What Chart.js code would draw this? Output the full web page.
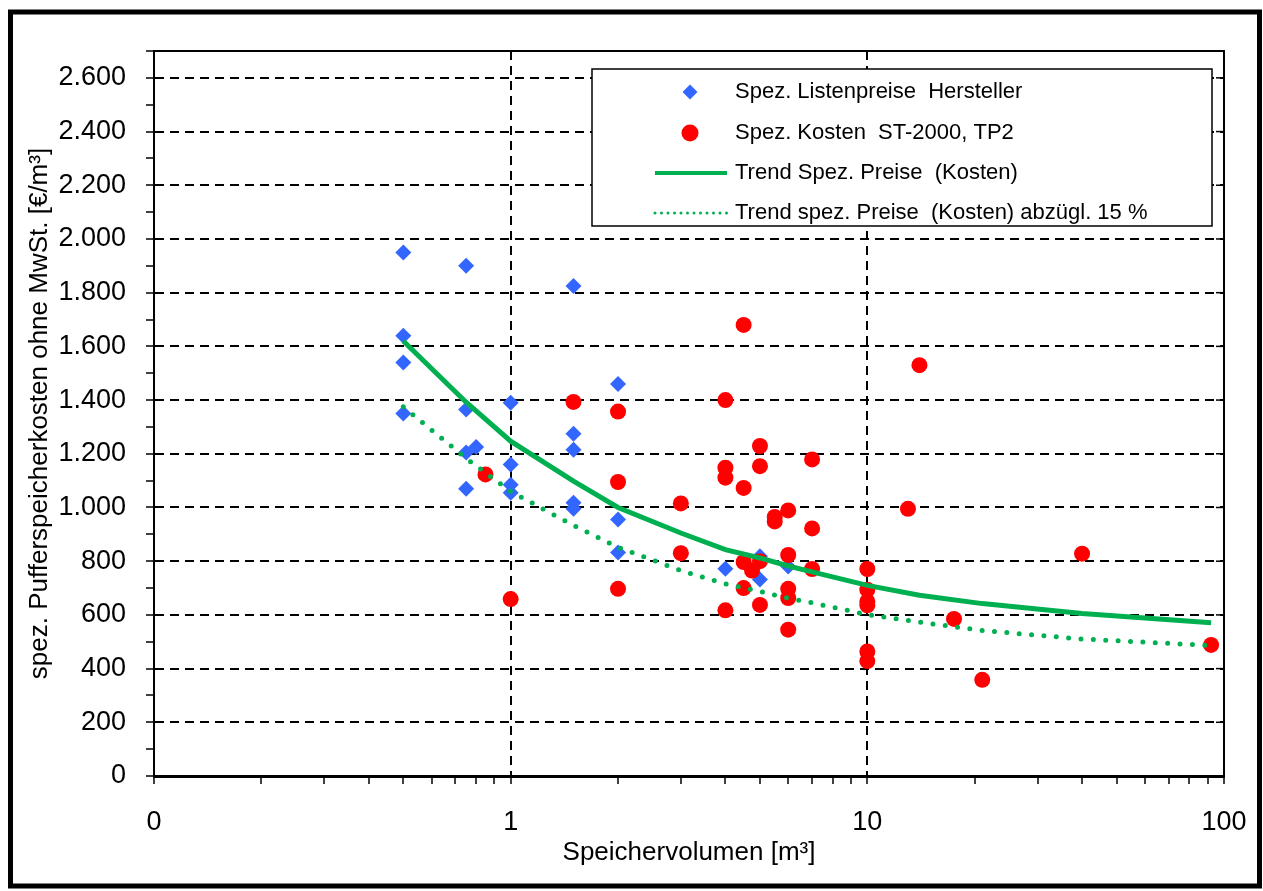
<!DOCTYPE html>
<html>
<head>
<meta charset="utf-8">
<script src="https://cdn.jsdelivr.net/npm/chart.js@4.4.1/dist/chart.umd.min.js"></script>
<style>
  html, body { margin: 0; padding: 0; background: #fff; }
  canvas { display: block; }
</style>
</head>
<body>
<canvas id="chart" width="1263" height="891"></canvas>
<script>
// Spez. Listenpreise Hersteller (blue diamonds)
const listX = [0.5, 0.5, 0.5, 0.5, 0.75, 0.75, 0.75, 0.75, 0.8, 1, 1, 1, 1,
  1.5, 1.5, 1.5, 1.5, 1.5, 2, 2, 2, 3, 4, 5, 5, 6];
const listY = [1950, 1640, 1540, 1350, 1900, 1365, 1205, 1070, 1225, 1390, 1160, 1085, 1055,
  1825, 1275, 1215, 1018, 995, 1460, 955, 832, 830, 772, 818, 732, 780];

// Spez. Kosten ST-2000, TP2 (red circles)
const costX = [0.85, 1, 1.5, 2, 2, 2, 3, 3, 4, 4, 4, 4, 4.5, 4.5, 4.5, 4.5, 4.75,
  5, 5, 5, 5, 5.5, 5.5, 6, 6, 6, 6, 6, 7, 7, 7, 10, 10, 10, 10, 10, 10,
  13, 14, 17.5, 21, 40, 92];
const costY = [1123, 659, 1393, 1357, 1095, 697, 1015, 830, 1400, 1148, 1111, 617,
  1680, 1073, 797, 700, 765, 1229, 1154, 800, 637, 965, 948, 989, 823, 697, 663, 545,
  1179, 922, 771, 771, 694, 650, 636, 464, 428, 995, 1530, 585, 358, 828, 488];

// trend lines
const trendX = [0.5, 0.75, 1, 1.5, 2, 3, 4, 5, 6, 7, 10, 14, 21, 40, 92];
const trendY = [1620, 1392, 1247, 1098, 1000, 905, 843, 812, 782, 760, 710, 673, 642, 605, 571];
const trend85Y = [1375, 1183, 1060, 933, 852, 765, 716, 687, 662, 645, 601, 573, 542, 510, 486];

const seriesNames = [
  'Spez. Listenpreise  Hersteller',
  'Spez. Kosten  ST-2000, TP2',
  'Trend Spez. Preise  (Kosten)',
  'Trend spez. Preise  (Kosten) abzügl. 15 %'
];

const xTicks = [0.1, 0.2, 0.3, 0.4, 0.5, 0.6, 0.7, 0.8, 0.9, 1, 2, 3, 4, 5, 6, 7, 8, 9,
  10, 20, 30, 40, 50, 60, 70, 80, 90, 100];
const xLabelValues = [0.1, 1, 10, 100];
const xLabels = ['0', '1', '10', '100'];
const xGridValues = [1, 10];

const yMin = 0, yMax = 2700, yStep = 100;
const yLabelValues = [0, 200, 400, 600, 800, 1000, 1200, 1400, 1600, 1800, 2000, 2200, 2400, 2600];
const yLabels = ['0', '200', '400', '600', '800', '1.000', '1.200', '1.400', '1.600',
  '1.800', '2.000', '2.200', '2.400', '2.600'];

const FONT = "'Liberation Sans Narrow', 'Arial Narrow', 'Liberation Sans', Arial, sans-serif";
const BLUE = '#3366FF';
const RED = '#FF0000';
const GREEN = '#00B050';

const pts = (xs, ys) => xs.map((x, i) => ({ x, y: ys[i] }));

const framePlugin = {
  id: 'frame',
  beforeDraw(chart) {
    const { ctx, width, height } = chart;
    ctx.save();
    ctx.fillStyle = '#fff';
    ctx.fillRect(0, 0, width, height);
    ctx.restore();
  },
  afterDraw(chart) {
    const { ctx, chartArea: a } = chart;
    const ys = chart.scales.y;
    ctx.save();
    // outer frame
    ctx.strokeStyle = '#000';
    ctx.lineWidth = 5;
    ctx.strokeRect(10.5, 12, 1249, 874);

    // plot box (top / right) and inward ticks on the right
    ctx.lineWidth = 2;
    ctx.beginPath();
    ctx.moveTo(a.left, a.top);
    ctx.lineTo(a.right, a.top);
    ctx.lineTo(a.right, a.bottom);
    ctx.stroke();
    ctx.lineWidth = 1.5;
    yLabelValues.forEach(v => {
      const py = ys.getPixelForValue(v);
      ctx.beginPath();
      ctx.moveTo(a.right - 8, py);
      ctx.lineTo(a.right, py);
      ctx.stroke();
    });

    // legend
    const L = { x: 592, y: 69, w: 620, h: 157 };
    ctx.fillStyle = '#fff';
    ctx.fillRect(L.x, L.y, L.w, L.h);
    ctx.strokeStyle = '#000';
    ctx.lineWidth = 1.5;
    ctx.strokeRect(L.x, L.y, L.w, L.h);

    const rows = [92, 133, 173, 213];
    const symX = 690;
    ctx.font = '22px ' + FONT;
    ctx.textBaseline = 'middle';
    ctx.textAlign = 'left';
    seriesNames.forEach((name, i) => {
      const y = rows[i];
      if (i === 0) {
        ctx.fillStyle = BLUE;
        ctx.beginPath();
        ctx.moveTo(symX, y - 7.5); ctx.lineTo(symX + 7.5, y);
        ctx.lineTo(symX, y + 7.5); ctx.lineTo(symX - 7.5, y);
        ctx.closePath(); ctx.fill();
      } else if (i === 1) {
        ctx.fillStyle = RED;
        ctx.beginPath();
        ctx.arc(symX, y, 8.5, 0, Math.PI * 2);
        ctx.fill();
      } else {
        ctx.strokeStyle = GREEN;
        ctx.lineCap = i === 3 ? 'round' : 'butt';
        ctx.lineWidth = i === 3 ? 3 : 4;
        ctx.setLineDash(i === 3 ? [0, 6.5] : []);
        ctx.beginPath();
        ctx.moveTo(655, y); ctx.lineTo(727, y);
        ctx.stroke();
        ctx.setLineDash([]);
      }
      ctx.fillStyle = '#000';
      ctx.fillText(name, 735, y);
    });
    ctx.restore();
  }
};

new Chart(document.getElementById('chart'), {
  type: 'scatter',
  data: {
    datasets: [
      {
        type: 'line',
        label: seriesNames[3],
        data: pts(trendX, trend85Y),
        borderColor: GREEN,
        borderWidth: 5,
        borderDash: [0, 12.4],
        borderCapStyle: 'round',
        pointRadius: 0,
        tension: 0,
        fill: false,
        order: 1
      },
      {
        type: 'line',
        label: seriesNames[2],
        data: pts(trendX, trendY),
        borderColor: GREEN,
        borderWidth: 5,
        pointRadius: 0,
        tension: 0,
        fill: false,
        order: 2
      },
      {
        label: seriesNames[1],
        data: pts(costX, costY),
        pointStyle: 'circle',
        pointRadius: 8,
        pointBackgroundColor: RED,
        pointBorderWidth: 0,
        order: 3
      },
      {
        label: seriesNames[0],
        data: pts(listX, listY),
        pointStyle: 'rectRot',
        pointRadius: 8,
        pointBackgroundColor: BLUE,
        pointBorderWidth: 0,
        order: 4
      }
    ]
  },
  options: {
    responsive: false,
    animation: false,
    events: [],
    layout: { padding: { left: 0, top: 51, right: 39, bottom: 0 } },
    plugins: {
      legend: { display: false },
      tooltip: { enabled: false }
    },
    scales: {
      x: {
        type: 'logarithmic',
        min: 0.1,
        max: 100,
        afterBuildTicks: (scale) => {
          scale.ticks = xTicks.map(v => ({ value: v, major: xLabelValues.includes(v) }));
        },
        afterFit: (scale) => {
          scale.height = 115;
          scale.paddingLeft = 0;
          scale.paddingRight = 0;
        },
        ticks: {
          autoSkip: false,
          maxRotation: 0,
          padding: 22,
          color: '#000',
          font: { family: FONT, size: 27 },
          callback: (v) => {
            const i = xLabelValues.indexOf(v);
            return i >= 0 ? xLabels[i] : '';
          }
        },
        grid: {
          color: (c) => (c.tick && xGridValues.includes(c.tick.value)) ? '#000' : 'rgba(0,0,0,0)',
          lineWidth: 2,
          tickColor: '#000',
          tickLength: 8,
          tickWidth: 1.5
        },
        border: { display: true, color: '#000', width: 3, dash: [9, 6] },
        title: {
          display: true,
          text: 'Speichervolumen [m³]',
          color: '#000',
          font: { family: FONT, size: 26 },
          padding: { top: 0, bottom: 23 }
        }
      },
      y: {
        type: 'linear',
        min: yMin,
        max: yMax,
        afterFit: (scale) => { scale.width = 154; },
        ticks: {
          stepSize: yStep,
          autoSkip: false,
          padding: 20,
          color: '#000',
          font: { family: FONT, size: 27 },
          callback: (v) => {
            const i = yLabelValues.indexOf(v);
            return i >= 0 ? yLabels[i] : '';
          }
        },
        grid: {
          color: (c) => (c.tick && c.tick.value > 0 && c.tick.value < yMax && c.tick.value % 200 === 0) ? '#000' : 'rgba(0,0,0,0)',
          lineWidth: 2,
          tickColor: '#000',
          tickLength: 8,
          tickWidth: 1.5
        },
        border: { display: true, color: '#000', width: 2, dash: [9, 6] },
        title: {
          display: true,
          text: 'spez. Pufferspeicherkosten ohne MwSt. [€/m³]',
          color: '#000',
          font: { family: FONT, size: 26 },
          padding: { top: 24, bottom: 0 }
        }
      }
    }
  },
  plugins: [framePlugin]
});
</script>
</body>
</html>
